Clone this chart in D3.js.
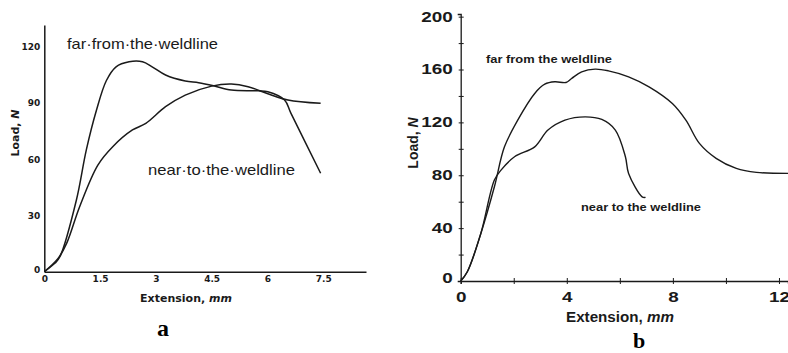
<!DOCTYPE html>
<html>
<head>
<meta charset="utf-8">
<script src="https://cdn.jsdelivr.net/npm/d3@7/dist/d3.min.js"></script>
<style>
  body { margin: 0; background: #fff; }
  svg { display: block; }
</style>
</head>
<body>
<svg id="chart" width="788" height="353"></svg>
<script>
// panel a: extension (mm), load (N)
const farA = [[0,0],[0.29,4.6],[0.42,8],[0.86,38],[1.13,65],[1.40,86],[1.67,102],[1.93,109.3],
  [2.28,112],[2.64,112],[2.90,109.3],[3.26,104.9],[3.79,101.7],[4.15,100.8],[4.55,99.2],
  [5.03,96.9],[5.75,96.5],[6.01,96],[6.46,91.6],[6.63,84.6],[7.43,52.5]];
const nearA = [[0,0],[0.37,7.1],[0.60,15.1],[0.95,34.7],[1.44,56.9],[1.84,66.7],[2.37,75.6],
  [2.73,79.1],[3.26,88],[3.79,94.2],[4.50,99],[5.03,100.1],[5.48,98.7],[6.03,94.8],
  [6.55,91.6],[7.43,89.8]];
const ticksAX = [0, 1.5, 3, 4.5, 6, 7.5];
const ticksAY = [0, 30, 60, 90, 120];

// panel b
const farB = [[0,0],[0.25,7],[0.76,36],[1.27,71.3],[1.65,101.5],[2.15,121.7],[2.79,141.9],
  [3.17,148.9],[3.55,150.7],[3.97,150.2],[4.18,153.2],[4.56,158.2],[5.07,160.3],[5.57,159],
  [6.33,154.5],[7.10,146.9],[7.98,134.3],[8.49,121.7],[9.00,104.1],[9.63,92.8],[10.39,85.2],
  [11.15,82.2],[12.42,81.4]];
const nearB = [[0,0],[0.25,7],[0.76,36],[1.27,76.4],[1.52,83.9],[2.03,94],[2.79,101.5],
  [3.29,114.2],[3.93,121.7],[4.69,124.2],[5.32,122.2],[5.83,114.2],[6.21,94],[6.33,81.4],
  [6.84,63.7],[6.97,63.3]];
const ticksBX = [0, 2, 4, 6, 8, 10, 12];
const labelsBX = [0, 4, 8, 12];
const ticksBY = [0, 20, 40, 60, 80, 100, 120, 140, 160, 180, 200];
const labelsBY = [0, 40, 80, 120, 160, 200];

const svg = d3.select('#chart');
const ink = '#1a1a1a';

// ---------- panel a ----------
const xA = d3.scaleLinear().domain([0, 8.65]).range([44.3, 366]);
const yA = d3.scaleLinear().domain([0, 131.6]).range([271.7, 25]);

const gA = svg.append('g');

const axAx = gA.append('g')
  .attr('transform', `translate(0, ${yA(0)})`)
  .call(d3.axisBottom(xA).tickValues(ticksAX).tickSize(0).tickSizeOuter(0).tickPadding(4)
    .tickFormat(d3.format('')));
const axAy = gA.append('g')
  .attr('transform', `translate(${xA(0)}, 0)`)
  .call(d3.axisLeft(yA).tickValues(ticksAY).tickSize(0).tickSizeOuter(0).tickPadding(4));

[axAx, axAy].forEach((ax) => {
  ax.select('.domain').attr('stroke', ink).attr('stroke-width', 1.5);
  ax.selectAll('text')
    .attr('fill', ink)
    .style('font-family', 'DejaVu Sans')
    .style('font-weight', 'bold')
    .style('font-size', '9px');
});
axAy.selectAll('.tick').filter((d) => d === 0).select('text').attr('dy', '0.1em');

const lineA = d3.line()
  .x((d) => xA(d[0]))
  .y((d) => yA(d[1]))
  .curve(d3.curveCatmullRom.alpha(0.5));

[farA, nearA].forEach((s) => {
  gA.append('path')
    .datum(s)
    .attr('fill', 'none')
    .attr('stroke', ink)
    .attr('stroke-width', 1.5)
    .attr('d', lineA);
});

gA.append('text')
  .attr('x', 67).attr('y', 49)
  .attr('textLength', 151).attr('lengthAdjust', 'spacingAndGlyphs')
  .style('font-family', 'Liberation Sans').style('font-size', '15px').attr('fill', ink)
  .text('far·from·the·weldline');
gA.append('text')
  .attr('x', 148).attr('y', 175)
  .attr('textLength', 147).attr('lengthAdjust', 'spacingAndGlyphs')
  .style('font-family', 'Liberation Sans').style('font-size', '15px').attr('fill', ink)
  .text('near·to·the·weldline');

const titleAx = gA.append('text')
  .attr('x', 186).attr('y', 302).attr('text-anchor', 'middle')
  .style('font-family', 'DejaVu Sans').style('font-weight', 'bold').style('font-size', '11px')
  .attr('fill', ink);
titleAx.append('tspan').text('Extension, ');
titleAx.append('tspan').style('font-style', 'italic').text('mm');

const titleAy = gA.append('text')
  .attr('transform', 'translate(19, 133) rotate(-90)').attr('text-anchor', 'middle')
  .style('font-family', 'DejaVu Sans').style('font-weight', 'bold').style('font-size', '11px')
  .attr('fill', ink);
titleAy.append('tspan').text('Load, ');
titleAy.append('tspan').style('font-style', 'italic').text('N');

gA.append('text')
  .attr('x', 163).attr('y', 336).attr('text-anchor', 'middle')
  .style('font-family', 'Liberation Serif').style('font-weight', 'bold').style('font-size', '24px')
  .attr('fill', '#000').text('a');

// ---------- panel b ----------
const xB = d3.scaleLinear().domain([0, 12.34]).range([460.7, 788]);
const yB = d3.scaleLinear().domain([0, 202]).range([281, 14]);

const gB = svg.append('g');

const axBx = gB.append('g')
  .attr('transform', `translate(0, ${yB(0)})`)
  .call(d3.axisBottom(xB).tickValues(ticksBX).tickSizeOuter(0).tickSize(3).tickPadding(6)
    .tickFormat((d) => (labelsBX.includes(d) ? d : '')));
const axBy = gB.append('g')
  .attr('transform', `translate(${xB(0)}, 0)`)
  .call(d3.axisLeft(yB).tickValues(ticksBY).tickSizeOuter(0).tickSize(3).tickPadding(5)
    .tickFormat((d) => (labelsBY.includes(d) ? d : '')));

axBx.selectAll('.tick line').attr('y1', -3).attr('y2', 3);
axBy.selectAll('.tick line').attr('x1', 3).attr('x2', -2);

[axBx, axBy].forEach((ax) => {
  ax.select('.domain').attr('stroke', ink).attr('stroke-width', 1.3);
  ax.selectAll('.tick line').attr('stroke', ink).attr('stroke-width', 1);
  ax.selectAll('text')
    .attr('fill', ink)
    .style('font-family', 'Liberation Sans')
    .style('font-weight', 'bold')
    .style('font-size', '14px')
    .attr('textLength', (d) => String(d).length * 10.5)
    .attr('lengthAdjust', 'spacingAndGlyphs');
});
axBx.selectAll('text').attr('dy', '0.85em');
axBy.selectAll('.tick').filter((d) => d === 0).select('text').attr('dy', '0.1em');

const lineB = d3.line()
  .x((d) => xB(d[0]))
  .y((d) => yB(d[1]))
  .curve(d3.curveCatmullRom.alpha(0.5));

[farB, nearB].forEach((s) => {
  gB.append('path')
    .datum(s)
    .attr('fill', 'none')
    .attr('stroke', ink)
    .attr('stroke-width', 1.4)
    .attr('d', lineB);
});

gB.append('text')
  .attr('x', 486).attr('y', 63)
  .attr('textLength', 126).attr('lengthAdjust', 'spacingAndGlyphs')
  .style('font-family', 'Liberation Sans').style('font-weight', 'bold').style('font-size', '11px')
  .attr('fill', ink).text('far from the weldline');
gB.append('text')
  .attr('x', 581).attr('y', 211)
  .attr('textLength', 120).attr('lengthAdjust', 'spacingAndGlyphs')
  .style('font-family', 'Liberation Sans').style('font-weight', 'bold').style('font-size', '11px')
  .attr('fill', ink).text('near to the weldline');

const titleBx = gB.append('text')
  .attr('x', 566).attr('y', 322)
  .attr('textLength', 108).attr('lengthAdjust', 'spacingAndGlyphs')
  .style('font-family', 'Liberation Sans').style('font-weight', 'bold').style('font-size', '14px')
  .attr('fill', ink);
titleBx.append('tspan').text('Extension, ');
titleBx.append('tspan').style('font-style', 'italic').text('mm');

const titleBy = gB.append('text')
  .attr('transform', 'translate(418, 143) rotate(-90)').attr('text-anchor', 'middle')
  .style('font-family', 'Liberation Sans').style('font-weight', 'bold').style('font-size', '14px')
  .attr('fill', ink);
titleBy.append('tspan').text('Load, ');
titleBy.append('tspan').style('font-style', 'italic').text('N');

gB.append('text')
  .attr('x', 639).attr('y', 348).attr('text-anchor', 'middle')
  .style('font-family', 'Liberation Serif').style('font-weight', 'bold').style('font-size', '22px')
  .attr('fill', '#000').text('b');
</script>
</body>
</html>
